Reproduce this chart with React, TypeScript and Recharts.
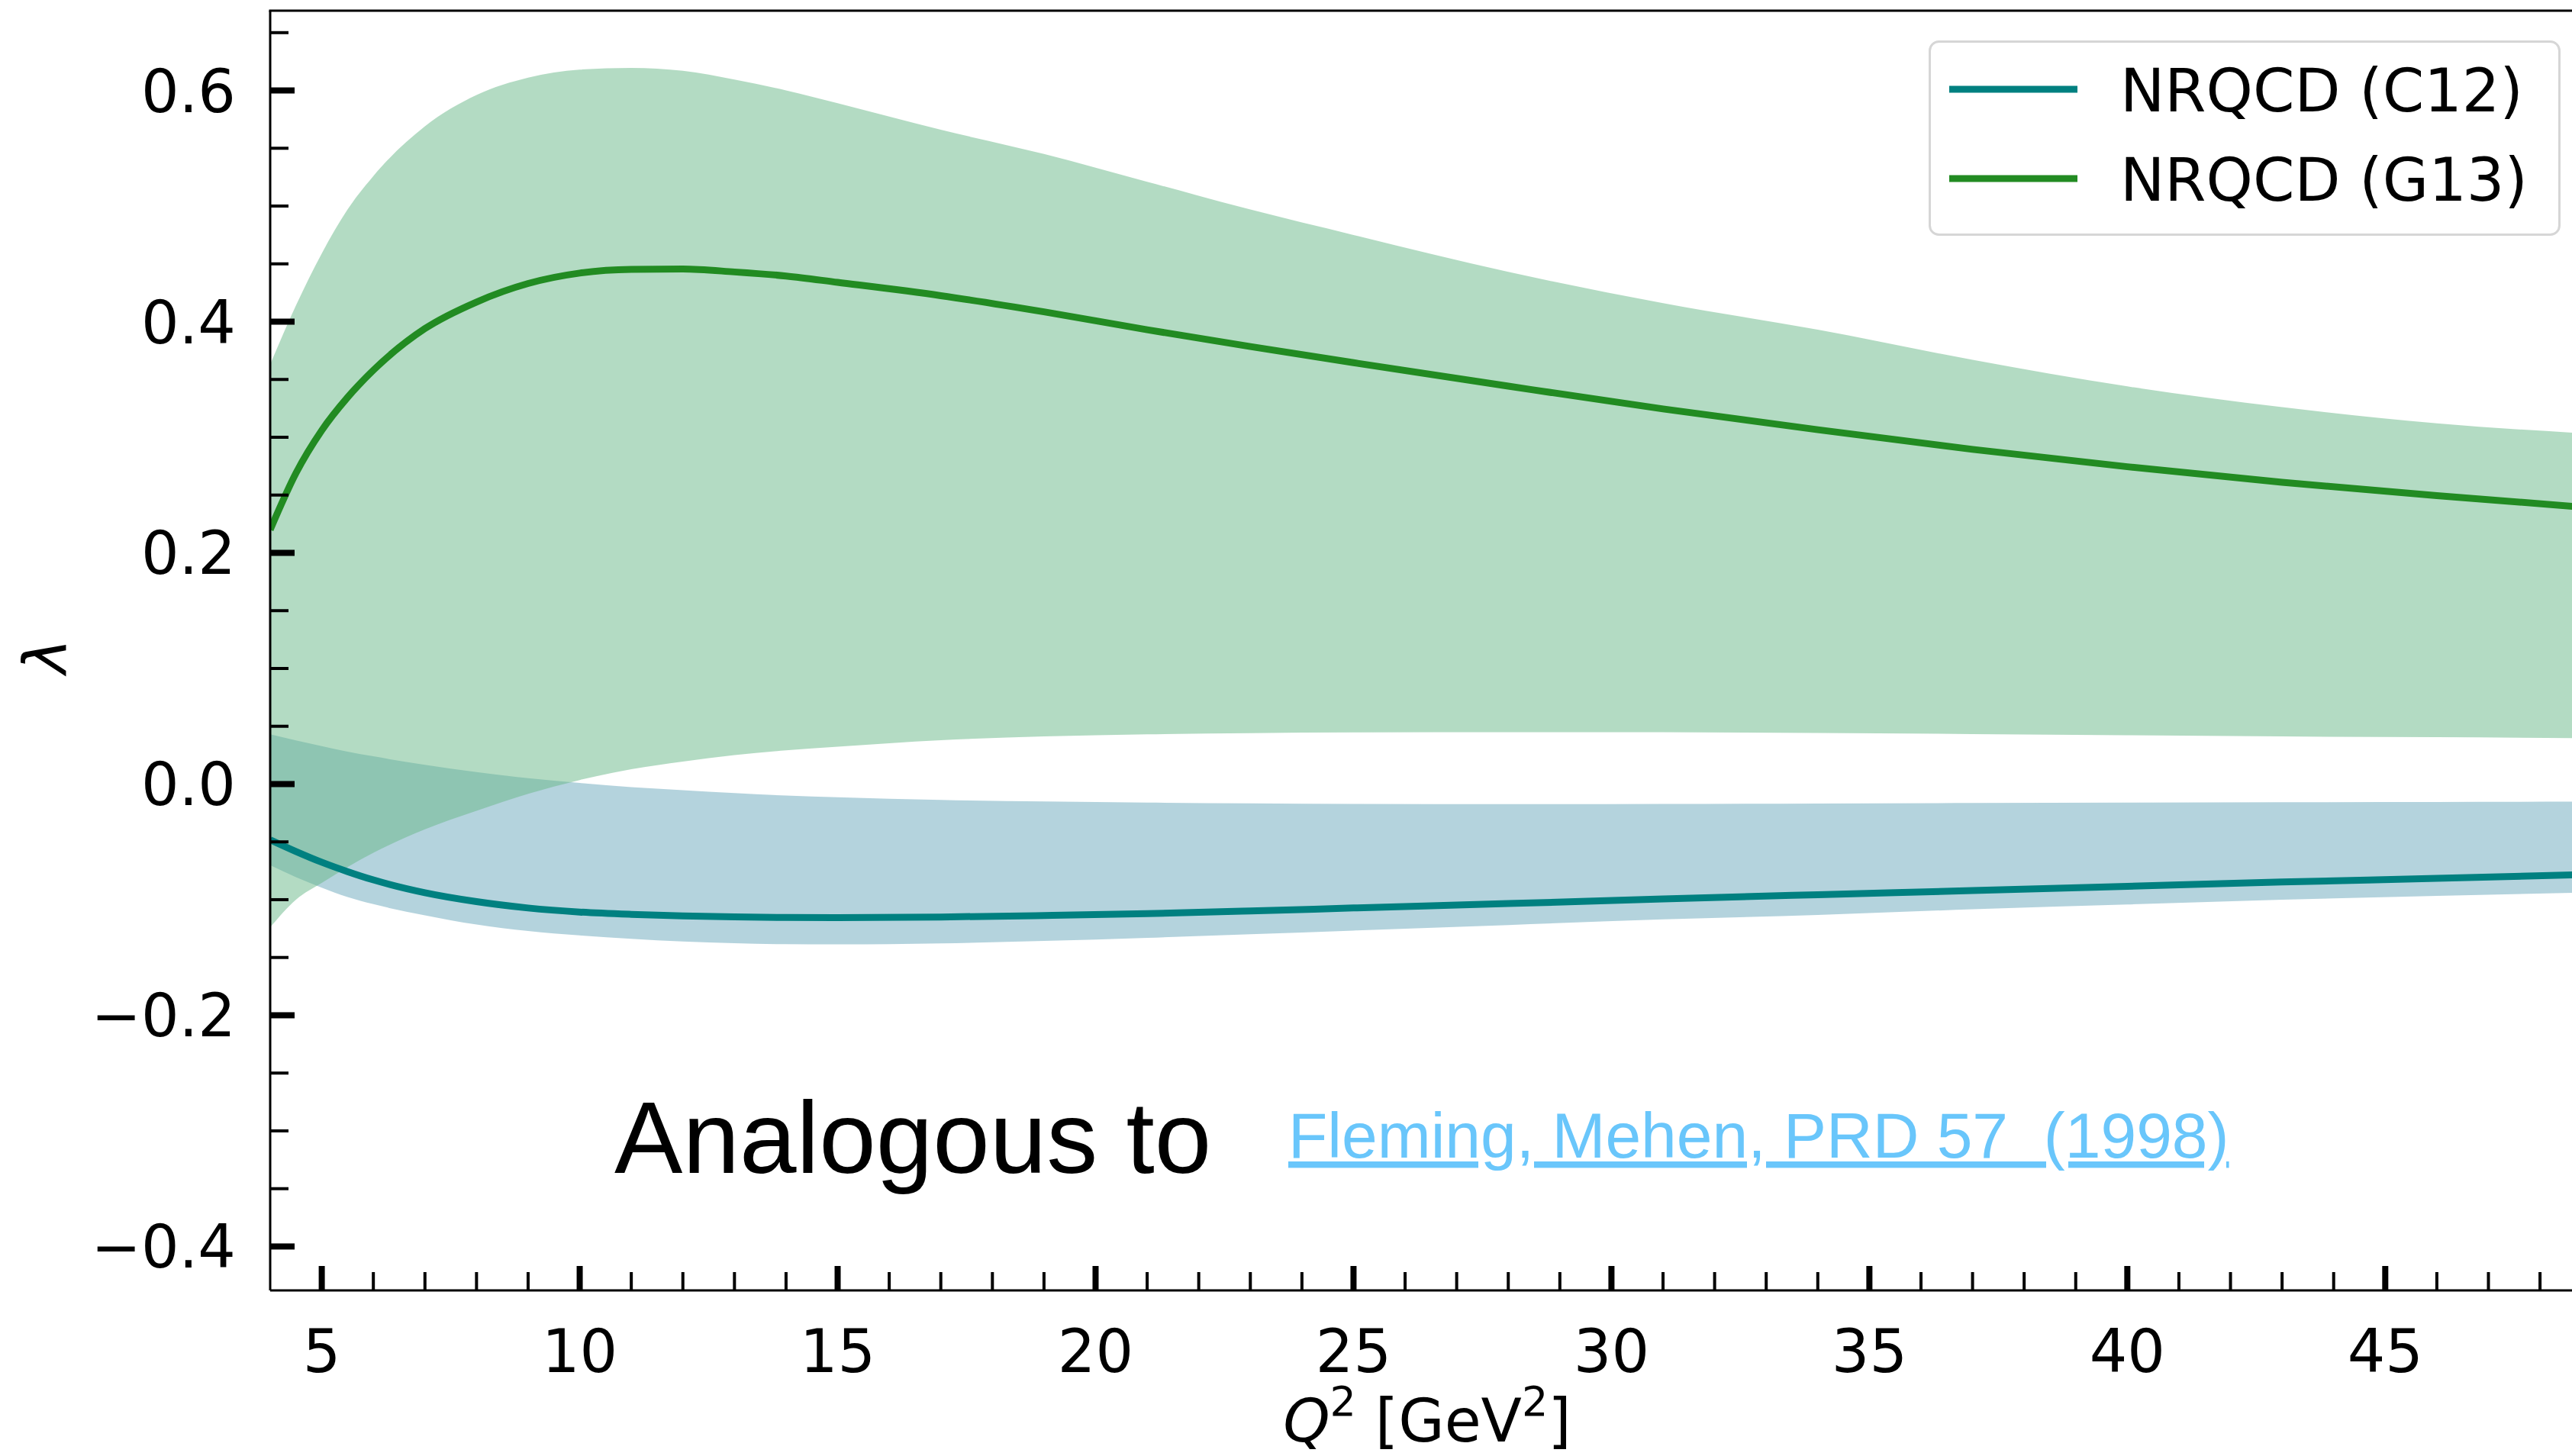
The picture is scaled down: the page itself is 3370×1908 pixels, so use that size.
import { Area, ComposedChart, Legend, Line, XAxis, YAxis } from "recharts";

// Q^2 sample points [GeV^2]
const q2 = [4, 4.5, 5, 5.5, 6, 7, 8, 9, 10, 11, 12, 13, 14, 15, 17, 19, 21, 23, 25, 28, 31, 34, 37, 40, 43, 46, 49];

// NRQCD (G13): central curve and band
const g13Mid = [0.22, 0.269, 0.306, 0.3345, 0.358, 0.394, 0.417, 0.433, 0.442, 0.4452, 0.4455, 0.443, 0.4395, 0.434, 0.4225, 0.4085, 0.393, 0.3785, 0.3645, 0.3442, 0.3245, 0.3065, 0.2895, 0.2745, 0.261, 0.2495, 0.239];
const g13High = [0.363, 0.414, 0.459, 0.497, 0.526, 0.569, 0.596, 0.611, 0.618, 0.6195, 0.617, 0.6095, 0.6, 0.589, 0.566, 0.545, 0.521, 0.497, 0.475, 0.443, 0.416, 0.393, 0.367, 0.344, 0.326, 0.312, 0.303];
const g13Low = [-0.124, -0.1, -0.0855, -0.0718, -0.0595, -0.0392, -0.0232, -0.0085, 0.0035, 0.0128, 0.0195, 0.025, 0.0292, 0.0323, 0.038, 0.0412, 0.043, 0.0441, 0.0447, 0.0449, 0.0448, 0.0442, 0.0433, 0.0422, 0.0412, 0.0405, 0.0397];

// NRQCD (C12): central curve and band
const c12Mid = [-0.0482, -0.0583, -0.0676, -0.0757, -0.0829, -0.094, -0.1017, -0.1072, -0.1107, -0.1127, -0.114, -0.1149, -0.1154, -0.1156, -0.115, -0.1137, -0.1121, -0.1098, -0.1072, -0.1034, -0.0994, -0.0957, -0.0921, -0.0884, -0.0847, -0.0816, -0.0782];
const c12High = [0.0431, 0.0378, 0.0328, 0.0281, 0.024, 0.0166, 0.0104, 0.0051, 0.0009, -0.0027, -0.0053, -0.0078, -0.0099, -0.0114, -0.0137, -0.0151, -0.016, -0.0167, -0.0172, -0.0174, -0.0172, -0.0168, -0.0164, -0.016, -0.0157, -0.0155, -0.0152];
const c12Low = [-0.0702, -0.0805, -0.0896, -0.0977, -0.1039, -0.1135, -0.1215, -0.1271, -0.1309, -0.1338, -0.1362, -0.1377, -0.1385, -0.1387, -0.1378, -0.1357, -0.133, -0.1299, -0.1267, -0.1219, -0.117, -0.1132, -0.1083, -0.1041, -0.1, -0.0968, -0.0937];

const xTicks = [5, 6, 7, 8, 9, 10, 11, 12, 13, 14, 15, 16, 17, 18, 19, 20, 21, 22, 23, 24, 25, 26, 27, 28, 29, 30, 31, 32, 33, 34, 35, 36, 37, 38, 39, 40, 41, 42, 43, 44, 45, 46, 47, 48];
const xLabels = [5, 10, 15, 20, 25, 30, 35, 40, 45];
const yTicks = [-0.4, -0.35, -0.3, -0.25, -0.2, -0.15, -0.1, -0.05, 0, 0.05, 0.1, 0.15, 0.2, 0.25, 0.3, 0.35, 0.4, 0.45, 0.5, 0.55, 0.6, 0.65];
const yLabels = [-0.4, -0.2, 0, 0.2, 0.4, 0.6];

const legendItems = [
  { name: "NRQCD (C12)", color: "#008080" },
  { name: "NRQCD (G13)", color: "#228b22" },
];

const X_DOMAIN = [4, 48.62];
const Y_DOMAIN = [-0.438, 0.669];
const PLOT_LEFT = 354;
const PLOT_TOP = 14;

const data = q2.map((q, i) => ({
  q2: q,
  c12Band: [c12Low[i], c12High[i]],
  c12: c12Mid[i],
  g13Band: [g13Low[i], g13High[i]],
  g13: g13Mid[i],
}));

const FONT = "DejaVu Sans, sans-serif";
const isIn = (list: number[], v: number) => list.some((l) => Math.abs(l - v) < 1e-9);
const fmtY = (v: number) => (Math.abs(v) < 1e-9 ? "0.0" : v.toFixed(1).replace("-", "\u2212"));

const XTick = (props: any) => {
  const { x, y, payload } = props;
  const major = isIn(xLabels, payload.value);
  return (
    <g>
      <line x1={x} x2={x} y1={y} y2={y - (major ? 32 : 24)} stroke="#000" strokeWidth={major ? 8 : 4} />
      {major && (
        <text x={x} y={y + 107} textAnchor="middle" fontSize={78} fontFamily={FONT} fill="#000">
          {payload.value}
        </text>
      )}
    </g>
  );
};

const YTick = (props: any) => {
  const { x, y, payload } = props;
  const major = isIn(yLabels, payload.value);
  return (
    <g>
      <line x1={x} x2={x + (major ? 32 : 24)} y1={y} y2={y} stroke="#000" strokeWidth={major ? 8 : 4} />
      {major && (
        <text x={x - 45} y={y + 28} textAnchor="end" fontSize={78} fontFamily={FONT} fill="#000">
          {fmtY(payload.value)}
        </text>
      )}
    </g>
  );
};

const LegendBox = () => (
  <svg width={828} height={256} style={{ display: "block" }}>
    <rect x={1.5} y={1.5} width={825} height={253} rx={12} fill="#fff" stroke="#d6d6d6" strokeWidth={3} />
    {legendItems.map((item, i) => (
      <g key={item.name}>
        <line x1={27} x2={195} y1={64 + i * 117} y2={64 + i * 117} stroke={item.color} strokeWidth={9} />
        <text x={251} y={93 + i * 117} fontSize={78} fontFamily={FONT} fill="#000">
          {item.name}
        </text>
      </g>
    ))}
  </svg>
);

export default function App() {
  return (
    <div style={{ position: "absolute", left: 0, top: 0, width: 3370, height: 1908, background: "#fff", overflow: "hidden" }}>
      <ComposedChart width={3370} height={1908} data={data} margin={{ top: PLOT_TOP, right: 0, bottom: 0, left: 0 }}>
        <XAxis
          dataKey="q2"
          type="number"
          domain={X_DOMAIN}
          allowDataOverflow
          ticks={xTicks}
          interval={0}
          height={217}
          tickSize={0}
          tickMargin={0}
          tickLine={false}
          axisLine={{ stroke: "#000", strokeWidth: 3 }}
          tick={<XTick />}
        />
        <YAxis
          type="number"
          domain={Y_DOMAIN}
          allowDataOverflow
          ticks={yTicks}
          interval={0}
          width={PLOT_LEFT}
          tickSize={0}
          tickMargin={0}
          tickLine={false}
          axisLine={{ stroke: "#000", strokeWidth: 3 }}
          tick={<YTick />}
        />
        <Legend
          layout="horizontal"
          align="center"
          verticalAlign="middle"
          wrapperStyle={{ top: 53, left: 2527, width: 828, height: 256, margin: 0, padding: 0 }}
          content={() => <LegendBox />}
        />
        <Area
          dataKey="c12Band"
          type="monotone"
          stroke="none"
          fill="#69a7bb"
          fillOpacity={0.5}
          dot={false}
          activeDot={false}
          legendType="none"
          isAnimationActive={false}
        />
        <Area
          dataKey="g13Band"
          type="monotone"
          stroke="none"
          fill="#67b787"
          fillOpacity={0.5}
          dot={false}
          activeDot={false}
          legendType="none"
          isAnimationActive={false}
        />
        <Line dataKey="c12" type="monotone" stroke="#008080" strokeWidth={9} dot={false} activeDot={false} isAnimationActive={false} />
        <Line dataKey="g13" type="monotone" stroke="#228b22" strokeWidth={9} dot={false} activeDot={false} isAnimationActive={false} />
      </ComposedChart>

      <svg width={3370} height={1908} style={{ position: "absolute", left: 0, top: 0, pointerEvents: "none" }}>
        {/* top spine */}
        <line x1={PLOT_LEFT - 1.5} x2={3370} y1={PLOT_TOP} y2={PLOT_TOP} stroke="#000" strokeWidth={3} />
        <text
          x={87}
          y={860}
          transform="rotate(-90, 87, 860)"
          textAnchor="middle"
          fontSize={78}
          fontStyle="italic"
          fontFamily={FONT}
          fill="#000"
        >
          λ
        </text>
        <text x={1870} y={1889} textAnchor="middle" fontSize={78} fontFamily={FONT} fill="#000">
          <tspan fontStyle="italic">Q</tspan>
          <tspan fontSize={54} dy={-34}>2</tspan>
          <tspan dy={34}> [GeV</tspan>
          <tspan fontSize={54} dy={-34}>2</tspan>
          <tspan dy={34}>]</tspan>
        </text>
        <text x={805} y={1537} fontSize={134} fontFamily="Liberation Sans, Arial, sans-serif" fill="#000">
          Analogous to
        </text>
        <text
          x={1688}
          y={1517}
          fontSize={84}
          fontFamily="Liberation Sans, Arial, sans-serif"
          fill="#69c6fb"
          textDecoration="underline"
          xmlSpace="preserve"
          style={{ whiteSpace: "pre" }}
        >
          {"Fleming, Mehen, PRD 57  (1998)"}
        </text>
      </svg>
    </div>
  );
}
